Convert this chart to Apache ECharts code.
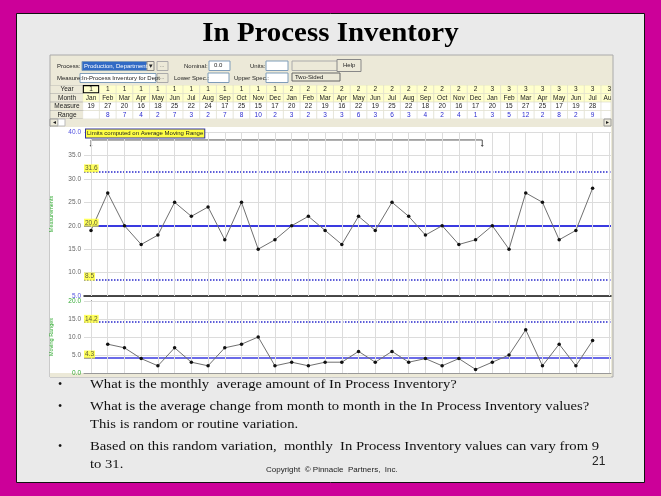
<!DOCTYPE html>
<html>
<head>
<meta charset="utf-8">
<script src="https://cdn.jsdelivr.net/npm/echarts@6/dist/echarts.min.js"></script>
<style>
html,body{margin:0;padding:0;background:#cc0099;}
#main{width:661px;height:496px;}
</style>
</head>
<body>
<div id="main"></div>
<script>
// values
var years = [1,1,1,1,1,1,1,1,1,1,1,1, 2,2,2,2,2,2,2,2,2,2,2,2, 3,3,3,3,3,3,3,3];
var months = ['Jan','Feb','Mar','Apr','May','Jun','Jul','Aug','Sep','Oct','Nov','Dec',
  'Jan','Feb','Mar','Apr','May','Jun','Jul','Aug','Sep','Oct','Nov','Dec',
  'Jan','Feb','Mar','Apr','May','Jun','Jul','Aug'];
var measures = [19,27,20,16,18,25,22,24,17,25,15,17, 20,22,19,16,22,19,25,22,18,20,16,17, 20,15,27,25,17,19,28];
var ranges = [null,8,7,4,2,7,3,2,7,8,10,2, 3,2,3,3,6,3,6,3,4,2,4,1, 3,5,12,2,8,2,9];
var rowNames = ['Year','Month','Measure','Range'];
var xLimits = {ucl: 31.6, cl: 20.0, lcl: 8.5};
var mrLimits = {url: 14.2, cl: 4.3};
var baseline = [0, 23.4]; // months used to compute the limits

var UI = 'Liberation Sans, Arial, sans-serif';
var SERIF = 'Liberation Serif, Times New Roman, serif';

// table cells: [column, row] + text kept alongside
var cells = [], cellText = [];
rowNames.forEach(function (r, ri) { cells.push([-1, ri]); cellText.push(r); });
months.forEach(function (m, i) {
  cells.push([i, 0]); cellText.push(String(years[i]));
  cells.push([i, 1]); cellText.push(m);
  cells.push([i, 2]); cellText.push(measures[i] == null ? '' : String(measures[i]));
  cells.push([i, 3]); cellText.push(ranges[i] == null ? '' : String(ranges[i]));
});

var xMin = -0.42, xMax = 31.1;
function xAxisOf(idx, line) {
  return {
    type: 'value', gridIndex: idx, min: xMin, max: xMax,
    axisLabel: {show: false}, axisTick: {show: false}, splitLine: {show: false},
    axisLine: line ? {show: true, onZero: false, lineStyle: line} : {show: false}
  };
}

function renderCell(params, api) {
  var col = api.value(0), row = api.value(1);
  var cs = params.coordSys;
  var c = api.coord([col < 0 ? 0 : col, row]);
  var w = api.size([1, 0])[0];
  var h = api.size([0, 1])[1];
  var txt = cellText[params.dataIndex];
  var x, width;
  if (col < 0) { x = 50; width = cs.x - 50; }
  else { x = c[0] - w / 2; width = w; }
  var rect = {x: x, y: c[1] - h / 2, width: width, height: h};
  var clip = echarts.graphic.clipRectByRect(rect, {x: 50, y: cs.y, width: cs.x + cs.width - 50, height: cs.height});
  if (!clip) return;
  var fill = col < 0 ? '#ece9d8' : (row < 2 ? '#ffffcc' : '#ffffff');
  var color = row === 3 && col >= 0 ? '#2b2bd0' : '#222';
  var children = [{
    type: 'rect', shape: clip,
    style: {fill: fill, stroke: col < 0 ? '#a0a0a0' : '#d6d6c8', lineWidth: 0.6}
  }, {
    type: 'text',
    style: {
      text: txt, x: col < 0 ? x + width / 2 : c[0], y: c[1],
      align: 'center', verticalAlign: 'middle',
      font: '6.5px ' + UI, fill: color
    }
  }];
  if (col === 0 && row === 0) {
    children.push({type: 'rect', shape: {x: rect.x + 0.5, y: rect.y + 0.5, width: rect.width - 1, height: rect.height - 1},
      style: {fill: 'none', stroke: '#000', lineWidth: 1.5}});
  }
  return {type: 'group', children: children, clipPath: {type: 'rect', shape: clip}};
}

function renderBracket(params, api) {
  var a = api.coord([api.value(0), 38.3]);
  var b = api.coord([api.value(1), 38.3]);
  var s = {stroke: '#555', lineWidth: 1, fill: 'none'};
  return {type: 'group', children: [
    {type: 'polyline', shape: {points: [[a[0], a[1] + 6], a, b, [b[0], b[1] + 6]]}, style: s},
    {type: 'polygon', shape: {points: [[a[0] - 1.5, a[1] + 5], [a[0] + 1.5, a[1] + 5], [a[0], a[1] + 7]]}, style: {fill: '#555'}},
    {type: 'polygon', shape: {points: [[b[0] - 1.5, b[1] + 5], [b[0] + 1.5, b[1] + 5], [b[0], b[1] + 7]]}, style: {fill: '#555'}}
  ]};
}

function limitLabel(y) { return [xMin, y]; }
var labelStyle = {
  show: true, position: 'right', distance: 0, offset: [0, -3],
  formatter: function (p) { return p.value[1].toFixed(1); },
  backgroundColor: '#ffff33', color: '#333', fontSize: 6.5, fontFamily: UI, padding: [1, 1, 0, 1]
};

var gridIdx = months.map(function (m, i) { return {xAxis: i}; });

// ---- slide chrome (not data) ----
function txt(x, y, s, size, extra) {
  var o = {type: 'text', x: x, y: y, z: 120, style: {text: s, font: (size || 6) + 'px ' + UI, fill: '#222', verticalAlign: 'middle'}};
  if (extra) for (var k in extra) o.style[k] = extra[k];
  return o;
}
function bullet(x, y, s) {
  var o = txt(x, y, s, 16, {fontFamily: SERIF, fill: '#111'});
  o.scaleX = 1.22;
  return o;
}
function box(x, y, w, h, fill, stroke, z) {
  return {type: 'rect', z: z || 110, shape: {x: x, y: y, width: w, height: h}, style: {fill: fill, stroke: stroke || '#7f9db9', lineWidth: 1}};
}
var graphics = [
  {type: 'rect', z: -20, shape: {x: 16.5, y: 13.5, width: 628, height: 469}, style: {fill: '#eaeaea', stroke: '#111', lineWidth: 1}, silent: true},
  {type: 'rect', z: -19, shape: {x: 50, y: 55, width: 563, height: 322}, style: {fill: '#ece9d8', stroke: '#aaa', lineWidth: 1}},
  {type: 'rect', z: -18, shape: {x: 50, y: 127, width: 561, height: 246}, style: {fill: '#ffffff'}},
  txt(57, 66, 'Process:'),
  box(82, 61.5, 65, 9, '#316ac5'),
  txt(84, 66, 'Production, Department 1', 6, {fill: '#fff'}),
  box(147, 61.5, 7, 9, '#ece9d8', '#888'),
  txt(148.5, 66, '\u25BE', 7),
  box(157, 61.5, 11, 9, '#ece9d8', '#aaa'),
  txt(159.5, 65, '...', 6, {fill: '#666'}),
  txt(184, 66, 'Nominal:'),
  box(209, 61, 21, 9.5, '#fff'),
  txt(214, 65.5, '0.0'),
  txt(250, 66, 'Units:'),
  box(266, 61, 22, 9.5, '#fff'),
  box(292, 61, 48, 9.5, '#ece9d8', '#aaa'),
  box(337, 59.5, 24, 12, '#ece9d8', '#888'),
  txt(343, 65.5, 'Help'),
  txt(57, 78, 'Measure:'),
  box(80, 73.5, 76, 9, '#fff'),
  txt(82, 78, 'In-Process Inventory for Dept'),
  box(157, 73.5, 11, 9, '#ece9d8', '#aaa'),
  txt(159.5, 77, '...', 6, {fill: '#666'}),
  txt(174, 78, 'Lower Spec.:'),
  box(208, 73, 21, 9.5, '#fff'),
  txt(234, 78, 'Upper Spec.:'),
  box(266, 73, 22, 9.5, '#fff'),
  box(292, 73, 48, 8, '#ece9d8', '#666'),
  txt(295, 77, 'Two-Sided'),
  box(50, 119, 8, 7, '#ece9d8', '#999'),
  txt(52.5, 122.5, '\u25C2', 6),
  box(58, 119, 7, 7, '#fff', '#bbb'),
  box(604, 119, 7, 7, '#ece9d8', '#999'),
  txt(606, 122.5, '\u25B8', 6),
  {type: 'rect', z: -17, shape: {x: 50, y: 373, width: 561, height: 4}, style: {fill: '#ece9d8'}},
  txt(86, 133.5, 'Limits computed on Average Moving Range', 6, {backgroundColor: '#ffff44', borderColor: '#3030a0', borderWidth: 1, padding: [1, 1]}),
  // slide text
  {type: 'text', x: 330.5, y: 34, scaleX: 1.07, z: 120,
    style: {text: 'In Process Inventory', font: 'bold 27px ' + SERIF, fill: '#000', align: 'center', verticalAlign: 'middle'}},
  txt(58, 385, '\u2022', 14, {fontFamily: SERIF, fill: '#111'}),
  bullet(90, 385, 'What is the monthly  average amount of In Process Inventory?'),
  txt(58, 407, '\u2022', 14, {fontFamily: SERIF, fill: '#111'}),
  bullet(90, 407, 'What is the average change from month to month in the In Process Inventory values?'),
  bullet(90, 425, 'This is random or routine variation.'),
  txt(58, 447, '\u2022', 14, {fontFamily: SERIF, fill: '#111'}),
  bullet(90, 447, 'Based on this random variation,  monthly  In Process Inventory values can vary from 9'),
  bullet(90, 465, 'to 31.'),
  txt(266, 470, 'Copyright  \u00A9 Pinnacle  Partners,  Inc.', 8, {fill: '#222'}),
  txt(592, 462, '21', 12, {fill: '#222'})
];

var chart = echarts.init(document.getElementById('main'), null, {renderer: 'canvas'});
chart.setOption({
  animation: false,
  backgroundColor: '#cc0099',
  graphic: graphics,
  grid: [
    {left: 84, right: 50, top: 85, height: 34},
    {left: 84, right: 50, top: 132, height: 164},
    {left: 84, right: 50, top: 301, height: 72}
  ],
  xAxis: [
    xAxisOf(0),
    xAxisOf(1, {color: '#111', width: 1.5}),
    xAxisOf(2, {color: '#999', width: 1})
  ],
  yAxis: [
    {type: 'category', gridIndex: 0, data: rowNames, inverse: true, show: false},
    {
      type: 'value', gridIndex: 1, min: 5, max: 40, interval: 5,
      name: 'Measurements', nameLocation: 'middle', nameGap: 30, nameRotate: 90,
      nameTextStyle: {color: '#33aa33', fontSize: 5.5, fontFamily: UI},
      axisLine: {show: true, lineStyle: {color: '#111', width: 1}},
      axisTick: {show: false},
      axisLabel: {fontSize: 6.5, fontFamily: UI, margin: 3,
        formatter: function (v) { return v.toFixed(1); },
        color: function (v) { return (+v === 40 || +v === 5) ? '#5050e0' : '#666'; }},
      splitLine: {lineStyle: {color: '#dcdcdc', width: 1}}
    },
    {
      type: 'value', gridIndex: 2, min: 0, max: 20, interval: 5,
      name: 'Moving Ranges', nameLocation: 'middle', nameGap: 30, nameRotate: 90,
      nameTextStyle: {color: '#33aa33', fontSize: 5.5, fontFamily: UI},
      axisLine: {show: true, lineStyle: {color: '#111', width: 1}},
      axisTick: {show: false},
      axisLabel: {fontSize: 6.5, fontFamily: UI, margin: 3,
        formatter: function (v) { return v.toFixed(1); },
        color: function (v) { return (+v === 20 || +v === 0) ? '#33aa33' : '#666'; }},
      splitLine: {lineStyle: {color: '#dcdcdc', width: 1}}
    }
  ],
  series: [
    {
      type: 'custom', xAxisIndex: 0, yAxisIndex: 0, renderItem: renderCell,
      data: cells, encode: {x: 0, y: 1}, silent: true
    },
    {
      type: 'line', xAxisIndex: 1, yAxisIndex: 1, data: [], silent: true,
      markLine: {silent: true, symbol: ['none', 'none'], label: {show: false},
        lineStyle: {color: '#dcdcdc', width: 1, type: 'solid'}, data: gridIdx}
    },
    {
      type: 'line', xAxisIndex: 2, yAxisIndex: 2, data: [], silent: true,
      markLine: {silent: true, symbol: ['none', 'none'], label: {show: false},
        lineStyle: {color: '#dcdcdc', width: 1, type: 'solid'}, data: gridIdx}
    },
    {
      type: 'line', xAxisIndex: 1, yAxisIndex: 1, z: 5,
      data: measures.map(function (v, i) { return [i, v]; }),
      symbol: 'circle', symbolSize: 3.5,
      lineStyle: {color: '#707070', width: 1},
      itemStyle: {color: '#111'},
      markLine: {silent: true, symbol: ['none', 'none'], label: {show: false}, z: 3,
        data: [
          {yAxis: xLimits.ucl, lineStyle: {color: '#2a2acc', width: 1.5, type: 'dotted'}},
          {yAxis: xLimits.cl, lineStyle: {color: '#3a3ae0', width: 2.2, type: 'solid'}},
          {yAxis: xLimits.lcl, lineStyle: {color: '#2a2acc', width: 1.5, type: 'dotted'}}
        ]}
    },
    {
      type: 'scatter', xAxisIndex: 1, yAxisIndex: 1, symbolSize: 0, z: 6, silent: true,
      data: [limitLabel(xLimits.ucl), limitLabel(xLimits.cl), limitLabel(xLimits.lcl)],
      label: labelStyle
    },
    {
      type: 'custom', xAxisIndex: 1, yAxisIndex: 1, renderItem: renderBracket,
      data: [baseline], silent: true
    },
    {
      type: 'line', xAxisIndex: 2, yAxisIndex: 2, z: 5,
      data: ranges.map(function (v, i) { return v == null ? [i, null] : [i, v]; }),
      symbol: 'circle', symbolSize: 3.5, connectNulls: false,
      lineStyle: {color: '#707070', width: 1},
      itemStyle: {color: '#111'},
      markLine: {silent: true, symbol: ['none', 'none'], label: {show: false}, z: 3,
        data: [
          {yAxis: mrLimits.url, lineStyle: {color: '#2a2acc', width: 1.5, type: 'dotted'}},
          {yAxis: mrLimits.cl, lineStyle: {color: '#3a3ae0', width: 1.6, type: 'solid'}}
        ]}
    },
    {
      type: 'scatter', xAxisIndex: 2, yAxisIndex: 2, symbolSize: 0, z: 6, silent: true,
      data: [limitLabel(mrLimits.url), limitLabel(mrLimits.cl)],
      label: labelStyle
    }
  ]
});
</script>
</body>
</html>
